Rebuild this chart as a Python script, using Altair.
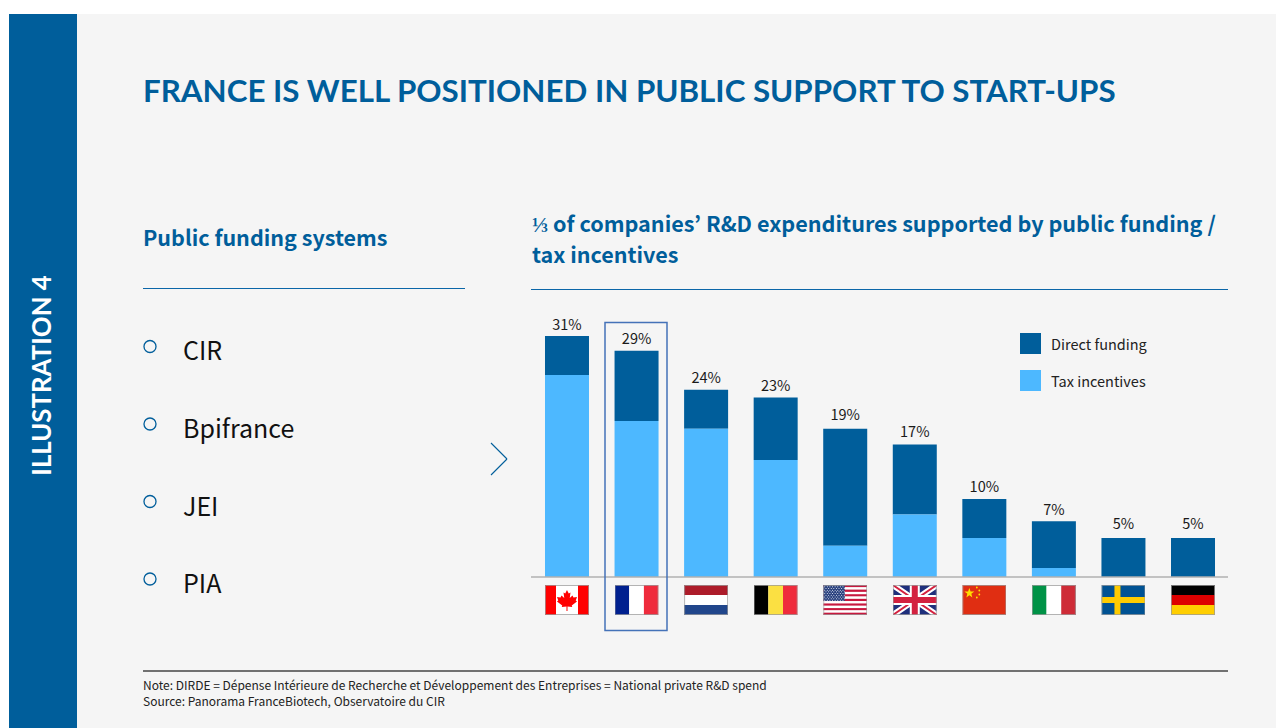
import urllib.parse
import altair as alt
import pandas as pd

# ---- data
countries = ["Canada", "France", "Netherlands", "Belgium", "USA", "UK", "China", "Italy", "Sweden", "Germany"]
direct_funding = [5, 9, 5, 8, 15, 9, 5, 6, 5, 5]
tax_incentives = [25.9, 20, 19, 15, 4, 8, 5, 1.15, 0, 0]
totals = [31, 29, 24, 23, 19, 17, 10, 7, 5, 5]
series_names = ["Direct funding", "Tax incentives"]
funding_systems = ["CIR", "Bpifrance", "JEI", "PIA"]

DARK = "#005e9b"
LIGHT = "#4db8ff"
PANEL = "#f5f5f5"
RULE = "#0b66a8"
BODY = "Noto Sans CJK KR"
HEAD = "Lato"


def flag(inner):
    svg = ('<svg xmlns="http://www.w3.org/2000/svg" width="88" height="60" viewBox="0 0 88 60">'
           + inner
           + '<rect x="1" y="1" width="86" height="58" fill="none" stroke="#9a9a9a" stroke-opacity="0.75" stroke-width="2"/></svg>')
    return "data:image/svg+xml," + urllib.parse.quote(svg)


def r(x, y, w, h, c):
    return f'<rect x="{x}" y="{y}" width="{w}" height="{h}" fill="{c}"/>'


leaf = ('<polygon fill="#ff0000" points="44,10 47.5,17 51,15 49.5,26 55,21 57,25 64,24 61.5,31 64,33 '
        '53.5,41 54.5,44 45,43 45,52 43,52 43,43 33.5,44 34.5,41 24,33 26.5,31 24,24 31,25 33,21 38.5,26 37,15 40.5,17"/>')
us_stars = "".join(
    f'<circle cx="{3 + col * 5.2 + (row % 2) * 2.6:.1f}" cy="{3.5 + row * 3.4:.1f}" r="1" fill="#ffffff"/>'
    for row in range(9) for col in range(8)
)
us_stripes = "".join(r(0, i * 60 / 13, 88, 60 / 13, "#c8183f" if i % 2 == 0 else "#ffffff") for i in range(13))
china_stars = ('<polygon fill="#ffde00" points="14,6 16.5,13 24,13 18,17.5 20,25 14,20.5 8,25 10,17.5 4,13 11.5,13"/>'
               + "".join(f'<circle cx="{a}" cy="{b}" r="1.8" fill="#ffde00"/>'
                         for a, b in [(29, 5), (34, 11), (34, 19), (29, 25)]))
uk = (r(0, 0, 88, 60, "#1f2f7c")
      + '<path d="M0,0 L88,60 M88,0 L0,60" stroke="#ffffff" stroke-width="12"/>'
      + '<path d="M0,0 L88,60 M88,0 L0,60" stroke="#d3213f" stroke-width="4"/>'
      + r(34, 0, 20, 60, "#ffffff") + r(0, 20, 88, 20, "#ffffff")
      + r(38, 0, 12, 60, "#d3213f") + r(0, 24, 88, 12, "#d3213f"))

flags = {
    "Canada": flag(r(0, 0, 88, 60, "#ffffff") + r(0, 0, 22, 60, "#ff0000") + r(66, 0, 22, 60, "#ff0000") + leaf),
    "France": flag(r(0, 0, 29.3, 60, "#00208f") + r(29.3, 0, 29.4, 60, "#ffffff") + r(58.7, 0, 29.3, 60, "#ef2b3c")),
    "Netherlands": flag(r(0, 0, 88, 20, "#ad1c2a") + r(0, 20, 88, 20, "#ffffff") + r(0, 40, 88, 20, "#21468b")),
    "Belgium": flag(r(0, 0, 29.3, 60, "#000000") + r(29.3, 0, 29.4, 60, "#fbe042") + r(58.7, 0, 29.3, 60, "#ef2b3c")),
    "USA": flag(us_stripes + r(0, 0, 43, 32, "#28407e") + us_stars),
    "UK": flag(uk),
    "China": flag(r(0, 0, 88, 60, "#e02e12") + china_stars),
    "Italy": flag(r(0, 0, 29.3, 60, "#009246") + r(29.3, 0, 29.4, 60, "#ffffff") + r(58.7, 0, 29.3, 60, "#ce2b37")),
    "Sweden": flag(r(0, 0, 88, 60, "#005293") + r(26, 0, 12, 60, "#fecb00") + r(0, 24, 88, 12, "#fecb00")),
    "Germany": flag(r(0, 0, 88, 20, "#000000") + r(0, 20, 88, 20, "#dd0000") + r(0, 40, 88, 20, "#ffce00")),
}

# ---- tables
long_rows = []
for c, d, t in zip(countries, direct_funding, tax_incentives):
    long_rows.append({"country": c, "series": series_names[0], "value": d})
    long_rows.append({"country": c, "series": series_names[1], "value": t})
long_df = pd.DataFrame(long_rows)

# small vertical corrections of the value labels, in pixels
nudge_px = {"Canada": 1.5, "USA": -2, "Sweden": -2, "Germany": -2}
PX_PER_UNIT = 7.8
total_df = pd.DataFrame({
    "country": countries,
    "anchor": [v - nudge_px.get(c, 0) / PX_PER_UNIT for c, v in zip(countries, totals)],
    "label": [f"{v}%" for v in totals],
})
flag_df = pd.DataFrame({"country": countries, "img": [flags[c] for c in countries]})

# chart origin sits on the page margin
OX, OY = 8, 8
W, H = 1268, 720

x_scale = alt.Scale(domain=countries, range=[532.2 - OX, 1227.8 - OX], paddingInner=0.3675, paddingOuter=0.184)
y_scale = alt.Scale(domain=[0, 31], range=[577 - OY, 335.2 - OY], nice=False, zero=True)
color_scale = alt.Scale(domain=series_names, range=[DARK, LIGHT])
X = alt.X("country:N", scale=x_scale, axis=None, sort=countries)


def box(x0, x1, y0, y1, **kw):
    return alt.Chart(alt.Data(values=[{"a": 1}])).mark_rect(**kw).encode(
        x=alt.value(x0 - OX), x2=alt.value(x1 - OX), y=alt.value(y0 - OY), y2=alt.value(y1 - OY))


def rule(x0, y0, x1, y1, color, w):
    return alt.Chart(alt.Data(values=[{"a": 1}])).mark_rule(color=color, strokeWidth=w).encode(
        x=alt.value(x0 - OX), x2=alt.value(x1 - OX), y=alt.value(y0 - OY), y2=alt.value(y1 - OY))


def label(s, x, y, size, color="#111111", weight="normal", font=BODY, **kw):
    kw.setdefault("align", "left")
    kw.setdefault("baseline", "alphabetic")
    return alt.Chart(alt.Data(values=[{"a": 1}])).mark_text(
        text=s, fontSize=size, color=color, fontWeight=weight, font=font, **kw
    ).encode(x=alt.value(x - OX), y=alt.value(y - OY))


layers = [
    box(9, 1284, 14, 728, color=PANEL),
    box(9, 77, 14, 728, color=DARK),
    label("ILLUSTRATION 4", 51, 375.5, 25.8, color="#ffffff", weight="bold", font=HEAD, angle=270, align="center"),
    label("FRANCE IS WELL POSITIONED IN PUBLIC SUPPORT TO START-UPS", 143, 102, 31.3, color=DARK, weight="bold", font=HEAD),
    label("Public funding systems", 143, 246, 21.5, color=DARK, weight="bold"),
    label("⅓ of companies’ R&D expenditures supported by public funding /", 532, 232, 21.6, color=DARK, weight="bold"),
    label("tax incentives", 532, 263, 21.5, color=DARK, weight="bold"),
    rule(143, 288.5, 465, 288.5, RULE, 1.2),
    rule(531, 289.5, 1228, 289.5, RULE, 1.2),
    rule(143, 671, 1228, 671, "#444444", 1.6),
    rule(491, 443, 507, 459, DARK, 1.1),
    rule(507, 459, 491, 475, DARK, 1.1),
    label("Note: DIRDE = Dépense Intérieure de Recherche et Développement des Entreprises = National private R&D spend",
          143, 690, 12, color="#222222"),
    label("Source: Panorama FranceBiotech, Observatoire du CIR", 143, 706, 12, color="#222222"),
]

for name, cy, ty in zip(funding_systems, [346.5, 424, 501.5, 579], [360, 438, 516, 593]):
    layers.append(alt.Chart(alt.Data(values=[{"a": 1}])).mark_point(
        shape="circle", filled=False, color=DARK, strokeWidth=1.3, size=145, opacity=1
    ).encode(x=alt.value(150 - OX), y=alt.value(cy - OY)))
    layers.append(label(name, 183, ty, 25))

bars = alt.Chart(long_df).mark_bar(size=44).encode(
    x=X,
    y=alt.Y("value:Q", stack="zero", scale=y_scale, axis=None),
    color=alt.Color("series:N", scale=color_scale, legend=None),
    order=alt.Order("series:N", sort="descending"),
)

value_labels = alt.Chart(total_df).mark_text(
    dy=-11, fontSize=14.5, font=BODY, color="#1a1a1a", baseline="middle", align="center"
).encode(x=X, y=alt.Y("anchor:Q", scale=y_scale, axis=None), text="label:N")

flag_marks = alt.Chart(flag_df).mark_image(width=44, height=30, aspect=False, align="center", baseline="middle").encode(
    x=X, y=alt.value(600 - OY), url="img:N"
)

layers += [
    bars,
    rule(531, 577, 1228, 577, "#b0b0b0", 1.5),
    value_labels,
    flag_marks,
    box(605, 667, 322.5, 630.5, filled=False, stroke="#4472b8", strokeWidth=1.5, fillOpacity=0),
]

# legend keys and their labels
for name, y0 in zip(series_names, [333, 370]):
    layers.append(
        alt.Chart(alt.Data(values=[{"series": name}])).mark_rect().encode(
            x=alt.value(1020 - OX), x2=alt.value(1041 - OX), y=alt.value(y0 - OY), y2=alt.value(y0 + 21 - OY),
            color=alt.Color("series:N", scale=color_scale, legend=None),
        )
    )
    layers.append(label(name, 1051, y0 + 17, 14.5, color="#222222"))

chart = alt.layer(*layers).properties(
    width=W, height=H, padding=0, autosize=alt.AutoSizeParams(type="none"), background="#ffffff"
).configure_view(stroke=None)

chart.save("out.html", embed_options={"renderer": "svg", "actions": False})
